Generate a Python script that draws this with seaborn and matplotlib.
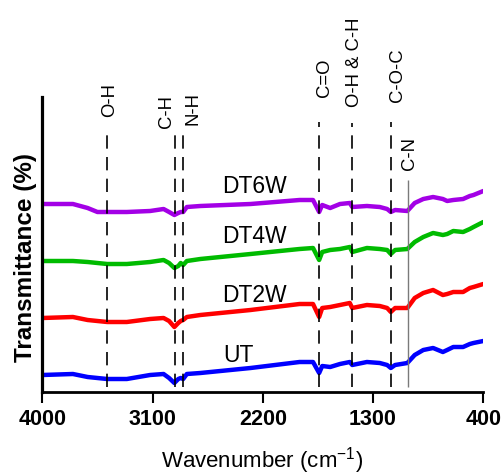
import matplotlib
matplotlib.use("Agg")
import matplotlib.pyplot as plt
import numpy as np
import pandas as pd
import seaborn as sns

# FTIR spectra (stacked, arbitrary transmittance offset)
wavenumber = [4000, 3750, 3630, 3550, 3470, 3310, 3120, 3010, 2965, 2922,
              2890, 2870, 2850, 2820, 2710, 2300, 1900, 1790, 1740, 1715,
              1650, 1570, 1490, 1470, 1350, 1245, 1185, 1155, 1120, 1020,
              960, 890, 810, 730, 695, 645, 565, 510, 480, 400]

dt6w = [188, 188, 184, 180, 180, 180, 181, 183, 180, 177,
        179, 180, 180, 185, 186, 188, 192, 192, 180, 187,
        184, 188, 189, 185, 186, 185, 183, 180, 182, 181,
        189, 193, 195, 193, 191, 192, 193, 196, 197, 201]

dt4w = [131, 131, 130, 129, 128, 128, 130, 132, 129, 124,
        126, 129, 127, 131, 133, 138, 143, 144, 132, 140,
        142, 143, 145, 140, 144, 143, 142, 138, 142, 143,
        150, 155, 159, 157, 158, 161, 160, 163, 165, 170]

dt2w = [74, 75, 72, 71, 70, 70, 73, 74, 71, 65,
        69, 71, 72, 75, 77, 82, 88, 88, 75, 84,
        85, 87, 89, 84, 87, 86, 84, 80, 84, 84,
        94, 99, 102, 97, 98, 100, 100, 104, 105, 108]

ut = [17, 18, 15, 14, 13, 13, 17, 18, 14, 9,
      13, 14, 13, 18, 19, 24, 30, 30, 19, 26,
      25, 28, 30, 27, 30, 29, 27, 24, 27, 29,
      37, 42, 44, 40, 42, 45, 45, 48, 49, 51]

samples = ["UT", "DT2W", "DT4W", "DT6W"]
series = [ut, dt2w, dt4w, dt6w]

# band assignments
bands = ["O-H", "C-H", "N-H", "C=O", "O-H & C-H", "C-O-C", "C-N"]
band_wn = [3470, 2920, 2850, 1740, 1470, 1155, 1017]

x_ticks = [4000, 3100, 2200, 1300, 400]

# ---- styling / layout ----
colors = {"UT": "#0000FF", "DT2W": "#FF0000", "DT4W": "#00BB00", "DT6W": "#A300E6"}
sample_label_pos = {"DT6W": (2533, 199), "DT4W": (2533, 149),
                    "DT2W": (2533, 90), "UT": (2525, 30)}
band_line_top = [260, 265, 259, 270, 269, 270, 212]
band_line_bottom = 5
band_text_bottom = [275, 264, 267, 295, 285, 290, 222]
band_text_dx_px = [0, -10, 8, 3, 0, 5, 0]
band_solid = [False, False, False, False, False, False, True]

sns.set_theme(style="ticks")
plt.rcParams["font.family"] = ["Liberation Sans", "DejaVu Sans"]
plt.rcParams["mathtext.fontset"] = "custom"
plt.rcParams["mathtext.rm"] = "Liberation Sans"
plt.rcParams["mathtext.it"] = "Liberation Sans:italic"
plt.rcParams["mathtext.bf"] = "Liberation Sans:bold"

df = pd.DataFrame({
    "wavenumber": np.tile(wavenumber, len(samples)),
    "transmittance": np.concatenate(series),
    "sample": np.repeat(samples, len(wavenumber)),
})

W, H = 501, 474
fig = plt.figure(figsize=(W / 100, H / 100), dpi=100)
ax = fig.add_axes([42.3 / W, 1 - 392 / H, 441 / W, 295 / H])

sns.lineplot(data=df, x="wavenumber", y="transmittance", hue="sample",
             palette=colors, estimator=None, linewidth=3.2, legend=False, ax=ax)

ax.set_xlim(4000, 400)
ax.set_ylim(0, 295)
ax.set_xticks(x_ticks)
ax.set_xticklabels([str(t) for t in x_ticks], fontweight="bold")
ax.set_yticks([])
ax.set_xlabel("")
ax.set_ylabel("")
ax.tick_params(axis="x", direction="out", length=8, width=1.5, pad=4,
               labelsize=15.5, colors="black")
for side in ("top", "right"):
    ax.spines[side].set_visible(False)
ax.spines["left"].set_linewidth(2.3)
ax.spines["bottom"].set_linewidth(2.0)
for side in ("left", "bottom"):
    ax.spines[side].set_color("black")

# band marker lines and labels
cap_half_px = 0.716 * 18.5 / 2
for name, wn, top, tb, dx, solid in zip(bands, band_wn, band_line_top,
                                        band_text_bottom, band_text_dx_px, band_solid):
    if solid:
        ax.vlines(wn, band_line_bottom, top, colors="#7a7a7a", linewidth=1.0)
    else:
        ax.vlines(wn, band_line_bottom, top, colors="black",
                  linestyles=(0, (8, 5)), linewidth=1.2)
    ax.annotate(name, xy=(wn, tb), xytext=((dx + cap_half_px) * 0.72, 0),
                textcoords="offset points", rotation=90, rotation_mode="anchor",
                ha="left", va="baseline", fontsize=13.3, color="black",
                annotation_clip=False)

for name in samples:
    x, y = sample_label_pos[name]
    ax.text(x, y, name, ha="left", va="baseline", fontsize=16.5, color="black")

fig.text(262.5 / W, 1 - 467 / H, "Wavenumber (cm$^{-1}$)", ha="center",
         va="baseline", fontsize=16, color="black")
fig.text(32 / W, 1 - 257.5 / H, "Transmittance (%)", rotation=90,
         rotation_mode="anchor", ha="center", va="baseline", fontsize=17.5,
         fontweight="bold", color="black")

fig.savefig("out.png", dpi=100)
